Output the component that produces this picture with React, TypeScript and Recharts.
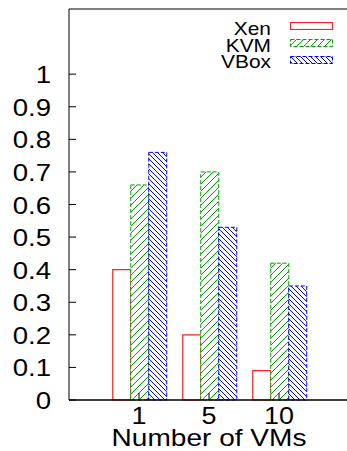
import React from 'react';
import { BarChart, Bar, XAxis, YAxis, Legend } from 'recharts';

const vmCounts = ['1', '5', '10'];
const xen = [0.4, 0.2, 0.09];
const kvm = [0.66, 0.7, 0.42];
const vbox = [0.76, 0.53, 0.35];
const yTicks = [0, 0.1, 0.2, 0.3, 0.4, 0.5, 0.6, 0.7, 0.8, 0.9, 1];
const seriesNames = ['Xen', 'KVM', 'VBox'];

const FONT = '"Liberation Sans", Arial, Helvetica, sans-serif';
const RED = '#ff2020';
const GREEN = '#00a000';
const BLUE = '#0000ff';

const data = vmCounts.map((vms, i) => ({ vms, Xen: xen[i], KVM: kvm[i], VBox: vbox[i] }));

const YTick = (props: any) => {
    const { x, y, payload } = props;
    return (
        <text transform={`translate(${x},${y + 9}) scale(1.15,1)`} textAnchor="end" fontSize={24} fontFamily={FONT} fill="#000">
            {payload.value}
        </text>
    );
};

const XTick = (props: any) => {
    const { x, y, payload } = props;
    return (
        <text transform={`translate(${x},${y}) scale(1.17,1)`} textAnchor="middle" fontSize={23} fontFamily={FONT} fill="#000">
            {payload.value}
        </text>
    );
};

const XLabel = (props: any) => {
    const { viewBox } = props;
    const cx = viewBox.x + viewBox.width / 2;
    const by = viewBox.y + viewBox.height - 5;
    return (
        <text transform={`translate(${cx},${by}) scale(1.22,1)`} textAnchor="middle" fontSize={23} fontFamily={FONT} fill="#000">
            Number of VMs
        </text>
    );
};

const swatch = (name: string) => {
    if (name === 'Xen') return <rect x={0.5} y={0.5} width={42} height={7} fill="#fff" stroke={RED} strokeWidth={1.2} />;
    if (name === 'KVM') return <rect x={0.5} y={0.5} width={42} height={7} fill="url(#hatchKvm)" stroke={GREEN} strokeDasharray="4 2" />;
    return <rect x={0.5} y={0.5} width={42} height={7} fill="url(#hatchVbox)" stroke={BLUE} strokeDasharray="4 2" />;
};

const LegendBox = () => (
    <div style={{ fontFamily: FONT }}>
        {seriesNames.map((name) => (
            <div key={name} style={{ display: 'flex', alignItems: 'center', height: 16.7 }}>
                <span style={{ width: 100, textAlign: 'right', fontSize: 19, lineHeight: '15px', transform: 'scale(1.1,1)', transformOrigin: 'right center', position: 'relative', top: 2 }}>
                    {name}
                </span>
                <svg width={43} height={8} style={{ marginLeft: 19 }}>
                    {swatch(name)}
                </svg>
            </div>
        ))}
    </div>
);

const App = () => {
    return (
        <div style={{ position: 'absolute', left: 0, top: 0, width: 347, height: 451, overflow: 'hidden', background: '#fff' }}>
            <svg width={0} height={0} style={{ position: 'absolute' }}>
                <defs>
                    <pattern id="hatchKvm" patternUnits="userSpaceOnUse" width={7} height={7}>
                        <rect width={7} height={7} fill="#fff" />
                        <path d="M0,7 L7,0 M-1,1 L1,-1 M6,8 L8,6" stroke={GREEN} strokeWidth={1} />
                    </pattern>
                    <pattern id="hatchVbox" patternUnits="userSpaceOnUse" width={5} height={5}>
                        <rect width={5} height={5} fill="#fff" />
                        <path d="M0,0 L5,5 M-1,4 L1,6 M4,-1 L6,1" stroke={BLUE} strokeWidth={1} />
                    </pattern>
                </defs>
            </svg>
            <BarChart width={360} height={451} data={data} margin={{ top: 0, right: 0, bottom: 0, left: 0 }} barCategoryGap="12.5%" barGap={0}>
                <XAxis
                    dataKey="vms"
                    height={51}
                    padding={{ left: 35, right: 35 }}
                    tickSize={-7}
                    tickMargin={31}
                    tick={<XTick />}
                    axisLine={{ stroke: '#000', strokeWidth: 1.5 }}
                    tickLine={{ stroke: '#000' }}
                    label={<XLabel />}
                />
                <XAxis
                    xAxisId="top"
                    orientation="top"
                    dataKey="vms"
                    height={9}
                    padding={{ left: 35, right: 35 }}
                    tickSize={-7}
                    tick={false}
                    axisLine={{ stroke: '#000' }}
                    tickLine={{ stroke: '#000' }}
                />
                <YAxis
                    width={69}
                    domain={[0, 1.2]}
                    ticks={yTicks}
                    tickSize={-7}
                    tickMargin={25}
                    tick={<YTick />}
                    axisLine={{ stroke: '#000' }}
                    tickLine={{ stroke: '#000' }}
                />
                <YAxis
                    yAxisId="right"
                    orientation="right"
                    width={11}
                    domain={[0, 1.2]}
                    ticks={yTicks}
                    tickSize={-7}
                    tick={false}
                    axisLine={{ stroke: '#000' }}
                    tickLine={{ stroke: '#000' }}
                />
                <Legend
                    layout="vertical"
                    align="center"
                    verticalAlign="middle"
                    content={<LegendBox />}
                    wrapperStyle={{ top: 18, left: 171, width: 170 }}
                />
                <Bar dataKey="Xen" fill="#fff" stroke={RED} strokeWidth={1.2} isAnimationActive={false} />
                <Bar dataKey="KVM" fill="url(#hatchKvm)" stroke={GREEN} strokeDasharray="4 2" isAnimationActive={false} />
                <Bar dataKey="VBox" fill="url(#hatchVbox)" stroke={BLUE} strokeDasharray="4 2" isAnimationActive={false} />
            </BarChart>
        </div>
    );
};

export default App;
